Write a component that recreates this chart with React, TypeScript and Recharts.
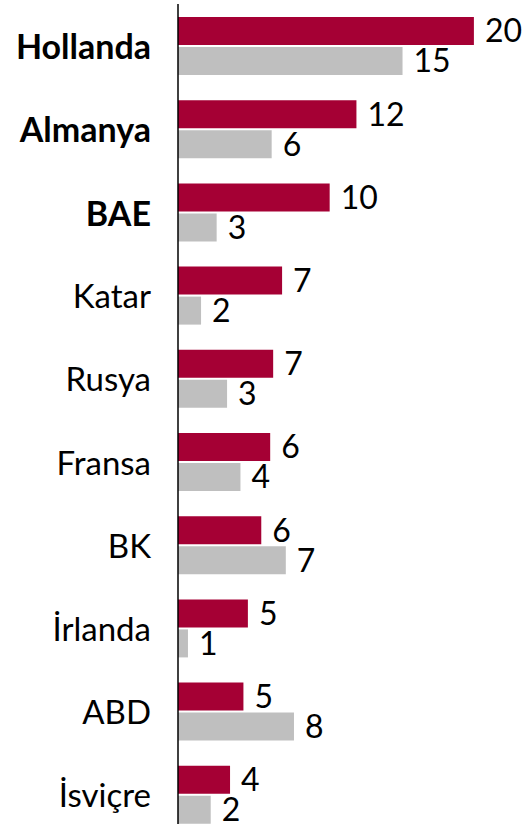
import React from "react";
import { BarChart, Bar, XAxis, YAxis, LabelList } from "recharts";

const categories = ["Hollanda", "Almanya", "BAE", "Katar", "Rusya", "Fransa", "BK", "İrlanda", "ABD", "İsviçre"];
const boldCategories = ["Hollanda", "Almanya", "BAE"];
const redValues = [19.9, 12.0, 10.2, 7.0, 6.4, 6.2, 5.6, 4.7, 4.4, 3.5];
const grayValues = [15.1, 6.3, 2.6, 1.55, 3.3, 4.2, 7.25, 0.67, 7.8, 2.2];
const redLabels = [20, 12, 10, 7, 7, 6, 6, 5, 5, 4];
const grayLabels = [15, 6, 3, 2, 3, 4, 7, 1, 8, 2];

const data = categories.map((name, i) => ({
  name,
  red: redValues[i],
  gray: grayValues[i],
  redLabel: redLabels[i],
  grayLabel: grayLabels[i],
}));

const FONT = "Lato, 'Open Sans', sans-serif";

const CategoryTick = (props: any) => {
  const { x, y, payload } = props;
  const bold = boldCategories.includes(payload.value);
  return (
    <text
      x={x}
      y={y}
      textAnchor="end"
      dominantBaseline="central"
      fontFamily={FONT}
      fontSize={bold ? 34 : 33}
      fontWeight={bold ? 700 : 400}
      fill="#000"
    >
      {payload.value}
    </text>
  );
};

export default function App() {
  return (
    <div style={{ position: "absolute", left: 0, top: 0, width: 530, height: 824, overflow: "hidden", background: "#fff" }}>
      <BarChart
        width={530}
        height={836}
        data={data}
        layout="vertical"
        margin={{ top: 4, right: 10, bottom: 0, left: 0 }}
        barSize={28}
        barGap={2}
      >
        <XAxis type="number" domain={[0, 23]} hide />
        <YAxis
          type="category"
          dataKey="name"
          width={178}
          tickSize={0}
          tickMargin={27}
          tickLine={false}
          axisLine={{ stroke: "#000", strokeWidth: 1.5 }}
          tick={<CategoryTick />}
          interval={0}
        />
        <Bar dataKey="red" fill="#A50034" isAnimationActive={false}>
          <LabelList dataKey="redLabel" position="right" offset={11} fill="#000" fontSize={32} fontFamily={FONT} />
        </Bar>
        <Bar dataKey="gray" fill="#BFBFBF" isAnimationActive={false}>
          <LabelList dataKey="grayLabel" position="right" offset={11} fill="#000" fontSize={32} fontFamily={FONT} />
        </Bar>
      </BarChart>
    </div>
  );
}
